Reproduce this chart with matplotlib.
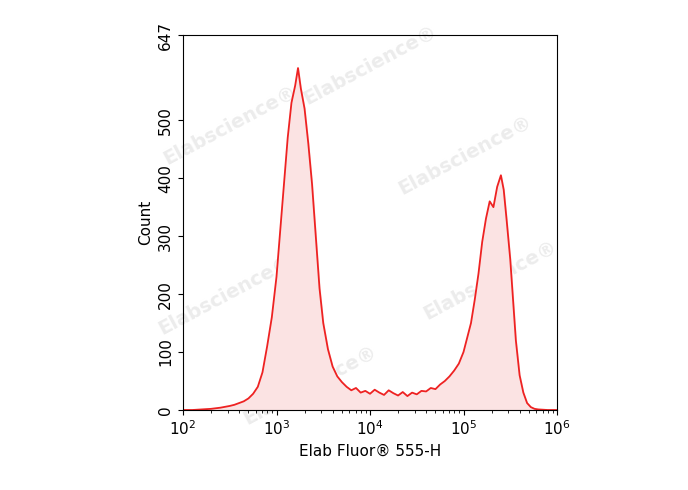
import matplotlib.pyplot as plt
import numpy as np

# log10 of fluorescence and event count
log_x = [2.0, 2.1, 2.2, 2.3, 2.4, 2.5, 2.55, 2.6, 2.65, 2.7, 2.75, 2.8, 2.85, 2.9,
         2.95, 3.0, 3.04, 3.08, 3.12, 3.16, 3.2, 3.23, 3.26, 3.3, 3.34, 3.38,
         3.42, 3.46, 3.5, 3.55, 3.6, 3.65, 3.7, 3.75, 3.8, 3.85, 3.9, 3.95, 4.0,
         4.05, 4.1, 4.15, 4.2, 4.25, 4.3, 4.35, 4.4, 4.45, 4.5, 4.55, 4.6, 4.65,
         4.7, 4.75, 4.8, 4.85, 4.9, 4.95, 5.0, 5.04, 5.08, 5.12, 5.16, 5.2,
         5.24, 5.28, 5.32, 5.36, 5.4, 5.43, 5.46, 5.5, 5.53, 5.56, 5.6, 5.64,
         5.68, 5.72, 5.76, 5.8, 5.9, 6.0]
counts = [0, 0, 1, 2, 4, 7, 9, 12, 15, 20, 28, 40, 65, 110,
          160, 230, 310, 390, 470, 530, 560, 590, 555, 520, 460, 390,
          300, 210, 150, 105, 75, 58, 48, 40, 34, 38, 30, 33, 28,
          35, 30, 26, 34, 29, 25, 31, 24, 30, 27, 33, 32, 38,
          36, 44, 50, 58, 68, 80, 100, 125, 150, 190, 235, 290,
          330, 360, 350, 385, 405, 380, 330, 260, 190, 120, 60, 30,
          12, 5, 2, 1, 0, 0]

x = 10 ** np.array(log_x)

fig = plt.figure(figsize=(6.88, 4.90), dpi=100)
ax = fig.add_axes([183 / 688, 80 / 490, 374 / 688, 375 / 490])

# watermark centres in figure pixels (from top-left)
marks = [(230, 125), (370, 65), (465, 155), (490, 280), (225, 295), (310, 385)]
for mx, my in marks:
    ax.text(mx / 688, 1 - my / 490, 'Elabscience\u00ae', transform=fig.transFigure,
            fontsize=14, color='#ececec', rotation=28, ha='center', va='center',
            fontweight='bold', zorder=0)

ax.fill_between(x, counts, color='#fbe3e3', zorder=1)
ax.plot(x, counts, color='#ee2222', lw=1.3, zorder=2)

ax.set_xscale('log')
ax.set_xlim(1e2, 1e6)
ax.set_ylim(0, 647)
ax.set_yticks([0, 100, 200, 300, 400, 500, 647])
for lab in ax.get_yticklabels():
    lab.set_rotation(90)
    lab.set_va('center')
ax.tick_params(labelsize=11)
ax.set_xlabel('Elab Fluor\u00ae 555-H', fontsize=11)
ax.set_ylabel('Count', fontsize=11)

fig.savefig('out.png', dpi=100)
